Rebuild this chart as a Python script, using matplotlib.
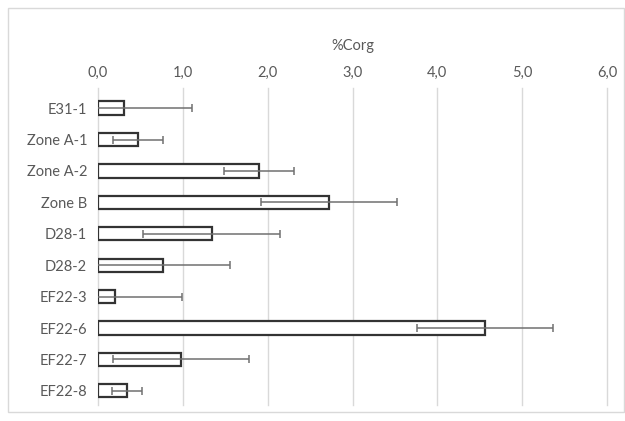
import numpy as np
import matplotlib.pyplot as plt
from matplotlib.ticker import FuncFormatter
from matplotlib.patches import Rectangle

# data (%Corg, mean and error)
sites = ['E31-1', 'Zone A-1', 'Zone A-2', 'Zone B', 'D28-1', 'D28-2',
         'EF22-3', 'EF22-6', 'EF22-7', 'EF22-8']
corg = [0.30, 0.47, 1.90, 2.72, 1.34, 0.77, 0.20, 4.56, 0.98, 0.34]
corg_err = [0.81, 0.30, 0.41, 0.80, 0.81, 0.79, 0.79, 0.80, 0.80, 0.18]
xticks = [0, 1, 2, 3, 4, 5, 6]

plt.rcParams['font.family'] = ['Lato', 'DejaVu Sans']

fig = plt.figure(figsize=(6.25, 4.21), dpi=100)
ax = fig.add_axes([0.157, 0.038, 0.814, 0.753])

ypos = np.arange(len(sites))
ax.barh(ypos, corg, height=0.42, color='white', edgecolor='#333333',
        linewidth=1.6, zorder=3)
ax.errorbar(corg, ypos, xerr=corg_err, fmt='none', ecolor='#707070',
            elinewidth=1.1, capsize=3, capthick=1.1, zorder=4)

ax.set_xlim(0, 6)
ax.set_ylim(len(sites) - 0.55, -0.64)
ax.set_yticks(ypos)
ax.set_yticklabels(sites)
ax.set_xticks(xticks)
ax.xaxis.set_major_formatter(FuncFormatter(lambda v, p: f'{v:.1f}'.replace('.', ',')))
ax.xaxis.tick_top()
ax.xaxis.set_label_position('top')
ax.set_xlabel('%Corg', color='#595959', fontsize=10.5, labelpad=11)
ax.tick_params(axis='y', length=0, labelsize=10.5, colors='#595959', pad=8)
ax.tick_params(axis='x', length=0, labelsize=10.5, colors='#595959', pad=6)
ax.grid(axis='x', color='#d9d9d9', linewidth=1, zorder=0)
for gl in ax.get_xgridlines():
    gl.set_clip_on(False)
for s in ax.spines.values():
    s.set_visible(False)

# outer chart frame
fig.patches.append(Rectangle((8 / 625, 1 - 412 / 421), 616 / 625, 404 / 421,
                             transform=fig.transFigure, fill=False,
                             edgecolor='#d9d9d9', linewidth=1))

fig.savefig('out.png', dpi=100)
